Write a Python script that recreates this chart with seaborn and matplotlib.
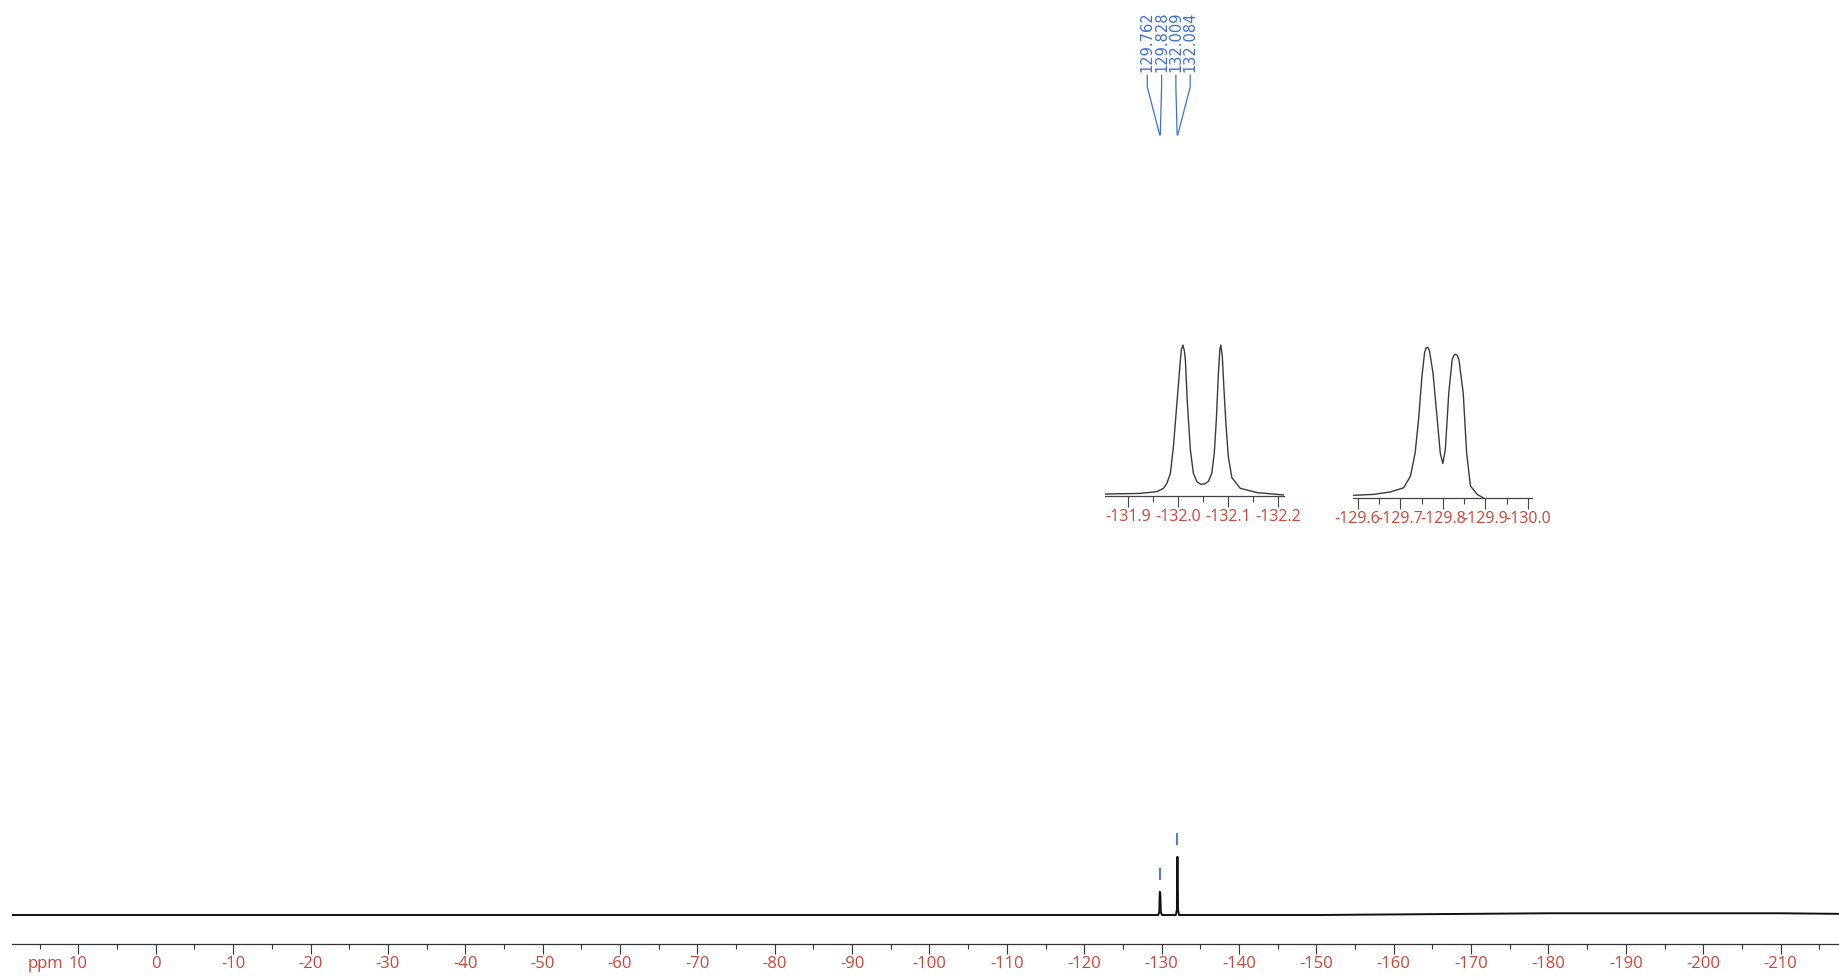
import matplotlib
matplotlib.use("Agg")
import matplotlib.pyplot as plt
from matplotlib.ticker import MultipleLocator, FormatStrFormatter
from matplotlib.transforms import offset_copy
import seaborn as sns

# 19F spectrum, relative intensity (tallest line = 1)
spec_ppm = [18.6, 0, -20, -40, -60, -80, -100, -120, -129.55, -129.70, -129.76,
            -129.83, -129.90, -130.05, -131.85, -131.98, -132.01, -132.08,
            -132.12, -132.25, -150, -160, -170, -180, -190, -200, -210, -217.6]
spec_int = [0.0, 0.0, 0.0, 0.0, 0.0, 0.0, 0.0, 0.0, 0.0, 0.05, 0.40,
            0.39, 0.05, 0.0, 0.0, 0.10, 1.0, 1.0,
            0.10, 0.0, 0.0, 0.01, 0.02, 0.03, 0.03, 0.03, 0.03, 0.02]

# zoom on the -132 doublet
d1_ppm = [-131.853, -131.890, -131.923, -131.957, -131.970, -131.977, -131.984,
          -131.990, -131.997, -132.004, -132.006, -132.009, -132.012, -132.014,
          -132.018, -132.024, -132.030, -132.037, -132.045, -132.053, -132.060,
          -132.067, -132.072, -132.076, -132.080, -132.083, -132.085, -132.088,
          -132.091, -132.095, -132.100, -132.107, -132.124, -132.158, -132.214]
d1_int = [0.0, 0.002, 0.004, 0.016, 0.038, 0.072, 0.139,
          0.318, 0.608, 0.899, 0.97, 1.0, 0.96, 0.899,
          0.608, 0.295, 0.139, 0.083, 0.065, 0.068, 0.085,
          0.14, 0.28, 0.50, 0.80, 0.97, 1.0, 0.92,
          0.72, 0.48, 0.25, 0.11, 0.038, 0.009, -0.007]

# zoom on the -129.8 doublet
d2_ppm = [-129.590, -129.637, -129.676, -129.708, -129.724, -129.735, -129.743,
          -129.751, -129.757, -129.760, -129.763, -129.766, -129.769, -129.777,
          -129.787, -129.794, -129.800, -129.806, -129.814, -129.822, -129.826,
          -129.830, -129.834, -129.838, -129.848, -129.856, -129.865, -129.881,
          -129.901, -130.011]
d2_int = [-0.002, 0.004, 0.020, 0.049, 0.128, 0.285, 0.510,
          0.802, 0.960, 0.99, 1.0, 0.995, 0.971, 0.825,
          0.510, 0.285, 0.213, 0.308, 0.690, 0.915, 0.945,
          0.953, 0.945, 0.915, 0.690, 0.285, 0.061, 0.004,
          -0.029, -0.029]

peak_labels = ["129.762", "129.828", "132.009", "132.084"]
peak_pos = [-129.762, -129.828, -132.009, -132.084]
marker_ppm = [-129.80, -132.05]
marker_int = [0.40, 1.0]

main_ticks = list(range(10, -211, -10))
d1_ticks = [-131.9, -132.0, -132.1, -132.2]
d2_ticks = [-129.6, -129.7, -129.8, -129.9, -130.0]

red = "#cf4436"
blue = "#3d6fd6"

sns.set_theme(style="white")
plt.rcParams["font.family"] = ["Open Sans", "DejaVu Sans"]
plt.rcParams["axes.unicode_minus"] = False

W, H = 1839, 977
fig = plt.figure(figsize=(W / 100, H / 100), dpi=100)


def px_axes(left, top, right, bottom):
    return fig.add_axes([left / W, 1 - bottom / H, (right - left) / W, (bottom - top) / H])


def style_axis(a, ticks, minor, fmt, major_len, minor_len, axcol, size):
    for s in ["left", "top", "right"]:
        a.spines[s].set_visible(False)
    a.spines["bottom"].set_color(axcol)
    a.spines["bottom"].set_linewidth(0.9)
    a.set_yticks([])
    a.set_xticks(ticks)
    a.xaxis.set_minor_locator(MultipleLocator(minor))
    a.xaxis.set_major_formatter(FormatStrFormatter(fmt))
    a.tick_params(axis="x", which="major", direction="out", length=major_len, width=0.8,
                  color=axcol, labelcolor=red, labelsize=size, pad=1.5, bottom=True)
    a.tick_params(axis="x", which="minor", direction="out", length=minor_len, width=0.8,
                  color=axcol, bottom=True)
    a.set_xlabel("")
    a.set_ylabel("")


# main spectrum
ax = px_axes(12, 0, 1839, 944)
sns.lineplot(x=spec_ppm, y=spec_int, ax=ax, color="#111111", lw=1.4,
             estimator=None, sort=False)
ax.set_xlim(18.58, -217.55)
ax.set_ylim(-0.5, 15.78)
ax.vlines(marker_ppm, [v + 0.21 for v in marker_int], [v + 0.41 for v in marker_int],
          color=blue, lw=1.3)
style_axis(ax, main_ticks, 5, "%d", 7.2, 3.8, "#333333", 12)
ax.text(12.0, 0, "ppm", ha="right", va="top", color=red, fontsize=12,
        transform=offset_copy(ax.get_xaxis_transform(), fig=fig, y=-8.7, units="points"))

# inset -132 doublet
ax1 = px_axes(1105, 340, 1284, 496)
sns.lineplot(x=d1_ppm, y=d1_int, ax=ax1, color="#3a3a3a", lw=1.0,
             estimator=None, sort=False)
ax1.set_xlim(-131.853, -132.2115)
ax1.set_ylim(-0.0134, 1.034)
style_axis(ax1, d1_ticks, 0.05, "%.1f", 8, 4.3, "#444444", 11.5)

# inset -129.8 doublet
ax2 = px_axes(1353.3, 340, 1531.7, 498)
sns.lineplot(x=d2_ppm, y=d2_int, ax=ax2, color="#3a3a3a", lw=1.0,
             estimator=None, sort=False)
ax2.set_xlim(-129.5896, -130.009)
ax2.set_ylim(-0.0203, 1.049)
style_axis(ax2, d2_ticks, 0.05, "%.1f", 8, 4.3, "#444444", 11.5)

# peak labels with leader lines (pixel overlay)
ov = fig.add_axes([0, 0, 1, 1])
ov.set_xlim(0, W)
ov.set_ylim(H, 0)
ov.axis("off")
peak_x = [ax.transData.transform((p, 0))[0] for p in peak_pos]
cx = sum(peak_x) / len(peak_x)
for i, (lab, px) in enumerate(zip(peak_labels, peak_x)):
    lx = cx + (i - 1.5) * 14.3
    ov.text(lx, 72, lab, rotation=90, ha="center", va="bottom", color=blue,
            fontsize=10.5, family="DejaVu Sans")
    ov.plot([lx, lx, px], [75, 87, 135], color=blue, lw=0.9)

fig.savefig("out.png", dpi=100)
